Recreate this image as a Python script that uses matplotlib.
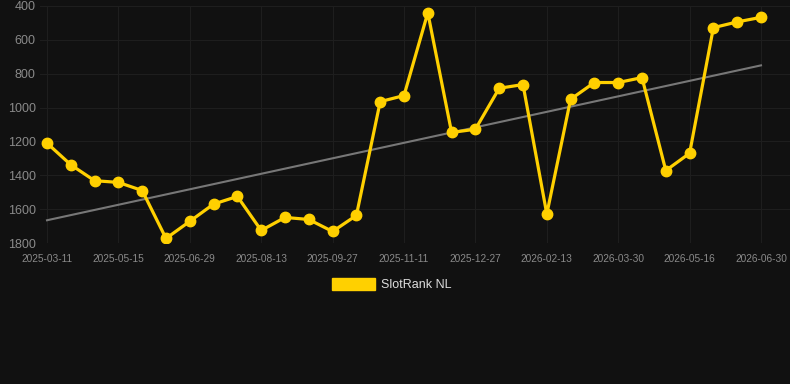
import matplotlib.pyplot as plt
import numpy as np
from matplotlib.patches import Patch

plt.rcParams['font.family'] = ['Liberation Sans', 'DejaVu Sans']

# one tick label every 3 points
tick_labels = ['2025-03-11', '2025-05-15', '2025-06-29', '2025-08-13', '2025-09-27',
               '2025-11-11', '2025-12-27', '2026-02-13', '2026-03-30', '2026-05-16',
               '2026-06-30']

rank = [1210, 1338, 1432, 1442, 1490, 1773, 1672, 1570, 1525, 1726,
        1649, 1661, 1732, 1637, 965, 929, 440, 1147, 1128, 886,
        864, 1629, 951, 852, 852, 823, 1372, 1270, 528, 494, 467]

bg = '#111111'
gold = '#FFD000'

x = np.arange(len(rank))
fig = plt.figure(figsize=(7.9, 3.84), dpi=100, facecolor=bg)
ax = fig.add_axes([40 / 790, (384 - 243) / 384, 750 / 790, 237 / 384])
ax.set_facecolor(bg)

# trend line (least squares)
k, b = np.polyfit(x, rank, 1)
ax.plot(x, k * x + b, color='#777777', linewidth=1.5, zorder=2)

ax.plot(x, rank, color=gold, linewidth=2.3, marker='o', markersize=7.5, zorder=3)

ax.set_xlim(-7 / 23.8, 30 + 29 / 23.8)
ax.set_ylim(1800, 400)
ax.set_yticks([400, 600, 800, 1000, 1200, 1400, 1600, 1800])
ax.set_xticks(x[::3])
ax.set_xticklabels(tick_labels)

ax.grid(True, color='#1e1e1e', linewidth=0.8)
ax.tick_params(axis='x', colors='#1e1e1e', labelcolor='#8a8a8a', labelsize=7.3, length=0, pad=8)
ax.tick_params(axis='y', colors='#1e1e1e', labelcolor='#8a8a8a', labelsize=9, length=0, pad=3)
for s in ax.spines.values():
    s.set_visible(False)

fig.legend(handles=[Patch(facecolor=gold, edgecolor=gold)], labels=['SlotRank NL'],
           loc='center', bbox_to_anchor=(0.496, 0.258), frameon=False,
           handlelength=3.4, handleheight=1.0, handletextpad=0.5,
           labelcolor='#dddddd', fontsize=9)

fig.savefig('out.png', dpi=100, facecolor=bg)
